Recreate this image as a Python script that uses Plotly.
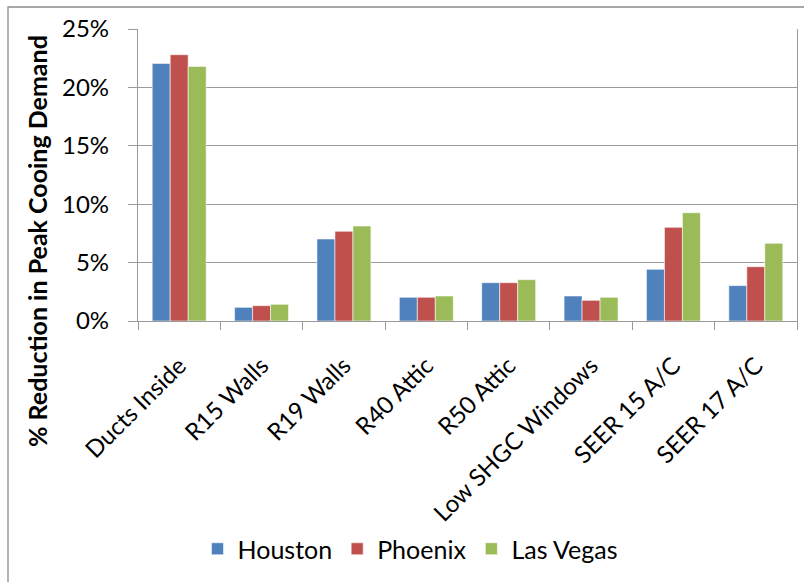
import plotly.graph_objects as go

categories = ["Ducts Inside", "R15 Walls", "R19 Walls", "R40 Attic", "R50 Attic",
              "Low SHGC Windows", "SEER 15 A/C", "SEER 17 A/C"]
houston = [22.05, 1.17, 7.02, 2.03, 3.28, 2.14, 4.42, 3.03]
phoenix = [22.8, 1.31, 7.68, 2.03, 3.28, 1.77, 8.02, 4.65]
las_vegas = [21.8, 1.43, 8.13, 2.14, 3.54, 2.03, 9.27, 6.65]

series = [("Houston", houston, "#4F81BD"),
          ("Phoenix", phoenix, "#C0504D"),
          ("Las Vegas", las_vegas, "#9BBB59")]

FONT = "Lato"
GRID = "#9a9a9a"

fig = go.Figure()
for name, vals, col in series:
    fig.add_trace(go.Bar(
        x=categories, y=vals, name=name,
        marker=dict(color=col, line=dict(color="rgba(255,255,255,0.7)", width=0.8)),
    ))

W, H = 804, 582
L, R, T, B = 138, 7, 29, 261
pw = W - L - R
ph = H - T - B

def px_x(x):
    return (x - L) / pw

def px_y(y):
    return (H - B - y) / ph

fig.update_layout(
    width=W, height=H,
    margin=dict(l=L, r=R, t=T, b=B, pad=0),
    paper_bgcolor="white", plot_bgcolor="white",
    barmode="group", bargap=0.345, bargroupgap=0,
    font=dict(family=FONT, color="black", size=22),
    showlegend=True,
    legend=dict(orientation="h", x=px_x(410), xanchor="center",
                y=px_y(549), yanchor="middle",
                font=dict(family=FONT, size=25, color="black"),
                bgcolor="rgba(0,0,0,0)", traceorder="normal"),
    xaxis=dict(
        type="category", showgrid=False, showline=True, linecolor=GRID, linewidth=1.3,
        ticks="outside", tickson="boundaries", ticklen=8, tickcolor=GRID, tickwidth=1.3,
        tickangle=-45, tickfont=dict(family=FONT, size=24, color="black"),
        ticklabelstandoff=20, mirror=False,
    ),
    yaxis=dict(
        range=[0, 25], dtick=5, ticksuffix="%", showgrid=True, gridcolor=GRID, gridwidth=1.3,
        showline=True, linecolor=GRID, linewidth=1.3, mirror=True,
        ticks="outside", ticklen=9, tickcolor=GRID, tickwidth=1.3,
        tickfont=dict(family=FONT, size=24, color="black"),
        ticklabelstandoff=14, zeroline=False,
    ),
    annotations=[dict(
        text="<b>% Reduction in Peak Cooing Demand</b>", textangle=-90,
        xref="paper", yref="paper", x=px_x(37), y=px_y(241),
        xanchor="center", yanchor="middle", showarrow=False,
        font=dict(family=FONT, size=25, color="black"),
    )],
    shapes=[dict(type="rect", xref="paper", yref="paper",
                 x0=px_x(8), x1=px_x(812), y0=px_y(600), y1=px_y(7),
                 line=dict(color="#8c8c8c", width=1.3), layer="below")],
)

fig.write_html("out.html", config={"displayModeBar": False},
               post_script="document.body.style.margin='0px';")
